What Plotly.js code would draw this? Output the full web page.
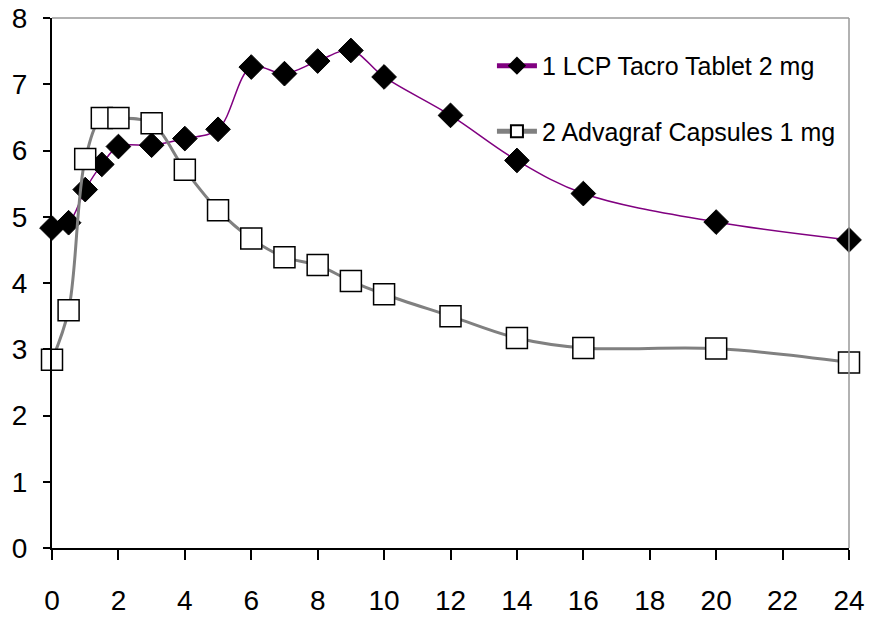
<!DOCTYPE html>
<html><head><meta charset="utf-8">
<script src="https://cdn.plot.ly/plotly-3.0.1.min.js"></script>
<style>html,body{margin:0;padding:0;background:#fff}#chart{width:870px;height:619px}</style>
</head><body><div id="chart"></div>
<script>
const hours = [0, 0.5, 1, 1.5, 2, 3, 4, 5, 6, 7, 8, 9, 10, 12, 14, 16, 20, 24];
const lcpTacro = [4.83, 4.91, 5.41, 5.79, 6.06, 6.08, 6.18, 6.32, 7.26, 7.16, 7.35, 7.51, 7.11, 6.53, 5.85, 5.35, 4.92, 4.65];
const advagraf = [2.84, 3.59, 5.87, 6.49, 6.49, 6.41, 5.71, 5.10, 4.67, 4.39, 4.27, 4.03, 3.83, 3.50, 3.17, 3.02, 3.01, 2.80];
const seriesNames = ['1 LCP Tacro Tablet 2 mg', '2 Advagraf Capsules 1 mg'];
const xTicks = [0, 2, 4, 6, 8, 10, 12, 14, 16, 18, 20, 22, 24];
const yTicks = [0, 1, 2, 3, 4, 5, 6, 7, 8];

const FONT = '"Liberation Sans", Arial, sans-serif';

const traces = [
  {
    x: hours, y: lcpTacro, name: seriesNames[0], type: 'scatter', mode: 'lines+markers',
    line: {color: '#800080', width: 1.5, shape: 'spline', smoothing: 1},
    marker: {symbol: 'diamond', size: 19, color: '#000000', line: {color: '#000000', width: 1}},
    cliponaxis: false, legendgroup: 'a'
  },
  {
    x: hours, y: advagraf, name: seriesNames[1], type: 'scatter', mode: 'lines+markers',
    line: {color: '#808080', width: 3, shape: 'spline', smoothing: 1},
    marker: {symbol: 'square', size: 21, color: '#ffffff', line: {color: '#000000', width: 1.5}},
    cliponaxis: false, legendgroup: 'b'
  }
];

const layout = {
  width: 870, height: 619,
  margin: {l: 52, r: 21, t: 18, b: 71, autoexpand: false},
  paper_bgcolor: '#ffffff', plot_bgcolor: '#ffffff',
  font: {family: FONT, size: 28, color: '#000000'},
  showlegend: true,
  legend: {
    x: 0.552, y: 0.953, xanchor: 'left', yanchor: 'top',
    bgcolor: 'rgba(0,0,0,0)', borderwidth: 0,
    font: {family: FONT, size: 25, color: '#000000'},
    tracegroupgap: 30, itemwidth: 40, itemsizing: 'constant'
  },
  xaxis: {
    range: [0, 24], tickmode: 'array', tickvals: xTicks, ticktext: xTicks.map(String),
    showgrid: false, zeroline: false, showline: true, linecolor: '#000000', linewidth: 2,
    ticks: 'outside', ticklen: 10, tickwidth: 2, tickcolor: '#000000', automargin: false,
    ticklabelstandoff: 16, tickfont: {family: FONT, size: 28, color: '#000000'}
  },
  yaxis: {
    range: [0, 8], tickmode: 'array', tickvals: yTicks, ticktext: yTicks.map(String),
    showgrid: false, zeroline: false, showline: true, linecolor: '#000000', linewidth: 2,
    ticks: 'outside', ticklen: 7, tickwidth: 2, tickcolor: '#000000', automargin: false,
    ticklabelstandoff: 10, tickfont: {family: FONT, size: 28, color: '#000000'}
  },
  shapes: [
    {type: 'line', xref: 'paper', yref: 'paper', x0: 0, x1: 1, y0: 1, y1: 1, line: {color: '#999999', width: 1.5}},
    {type: 'line', xref: 'paper', yref: 'paper', x0: 1, x1: 1, y0: 0, y1: 1, line: {color: '#999999', width: 1.5}}
  ]
};

Plotly.newPlot('chart', traces, layout, {staticPlot: true, displayModeBar: false});
</script>
</body></html>
